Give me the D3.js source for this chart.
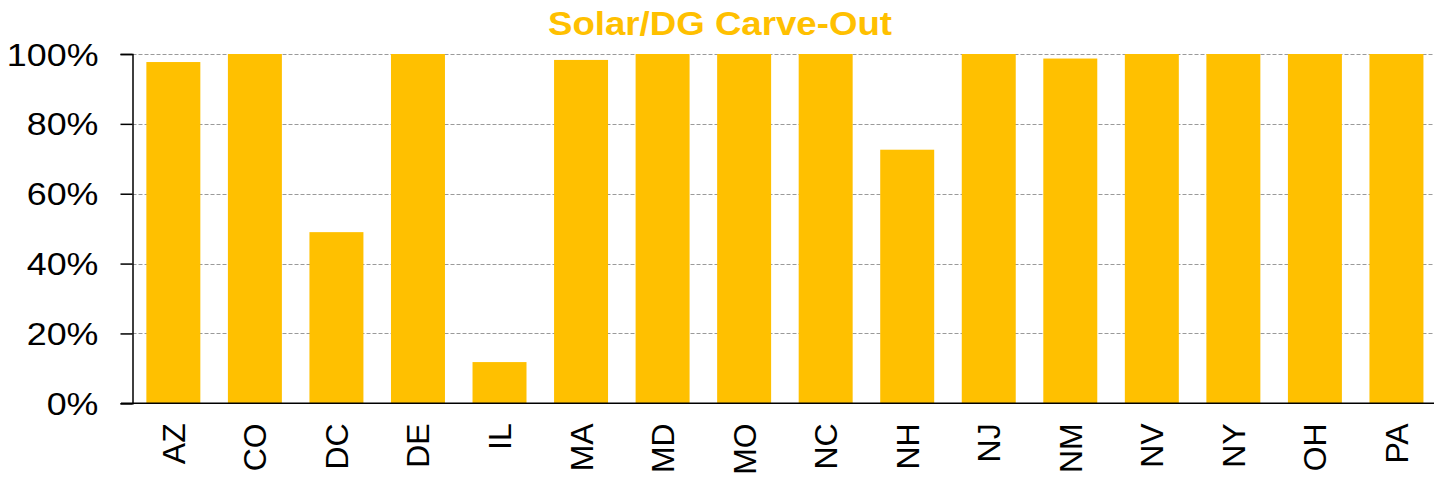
<!DOCTYPE html>
<html>
<head>
<meta charset="utf-8">
<script src="https://cdn.jsdelivr.net/npm/d3@7"></script>
<style>
  body { margin: 0; background: #fff; }
  text { font-family: "Liberation Sans", Arial, sans-serif; }
</style>
</head>
<body>
<div id="chart"></div>
<script>
// Chart data
const states = ["AZ", "CO", "DC", "DE", "IL", "MA", "MD", "MO", "NC", "NH", "NJ", "NM", "NV", "NY", "OH", "PA"];
const carveOut = [0.977, 1.0, 0.49, 1.0, 0.118, 0.983, 1.0, 1.0, 1.0, 0.726, 1.0, 0.987, 1.0, 1.0, 1.0, 1.0];
const yTicks = [0, 0.2, 0.4, 0.6, 0.8, 1.0];
const chartTitle = "Solar/DG Carve-Out";

const width = 1434, height = 479;
const plotLeft = 132.5, plotRight = 1437.3, plotTop = 54, plotBottom = 403.3;

const svg = d3.select("#chart")
    .append("svg")
    .attr("width", width)
    .attr("height", height);

// Scales
const xScale = d3.scaleBand()
    .domain(states)
    .range([plotLeft, plotRight])
    .paddingInner(0.338)
    .paddingOuter(0.17);

const yScale = d3.scaleLinear()
    .domain([0, 1])
    .range([plotBottom, plotTop]);

// Dashed gridlines
svg.append("g")
    .selectAll("line")
    .data(yTicks.filter(d => d > 0))
    .enter()
    .append("line")
    .attr("x1", plotLeft)
    .attr("x2", width)
    .attr("y1", d => Math.round(yScale(d)) + 0.5)
    .attr("y2", d => Math.round(yScale(d)) + 0.5)
    .attr("stroke", "#9a9a9a")
    .attr("stroke-width", 1)
    .attr("stroke-dasharray", "4,2");

// Bars
svg.selectAll(".bar")
    .data(states)
    .enter()
    .append("rect")
    .attr("class", "bar")
    .attr("x", d => xScale(d))
    .attr("y", (d, i) => yScale(carveOut[i]))
    .attr("width", xScale.bandwidth())
    .attr("height", (d, i) => plotBottom - yScale(carveOut[i]))
    .attr("fill", "#FFC000");

// Y axis
const yAxis = svg.append("g")
    .attr("transform", "translate(" + plotLeft + ",0)")
    .call(d3.axisLeft(yScale).tickValues(yTicks).tickSize(12).tickFormat(d3.format(".0%")));

yAxis.select(".domain").attr("stroke", "#000").attr("stroke-width", 1.5);
yAxis.selectAll(".tick line").attr("stroke", "#000").attr("stroke-width", 1.5);
yAxis.selectAll(".tick text")
    .attr("x", null)
    .attr("dy", null)
    .attr("transform", "translate(-34,11) scale(1.12,1)")
    .style("font-size", "32px")
    .attr("fill", "#000");

// X axis
const xAxis = svg.append("g")
    .attr("transform", "translate(0," + plotBottom + ")")
    .call(d3.axisBottom(xScale).tickSize(0).tickPadding(0));

xAxis.select(".domain")
    .attr("d", "M" + (plotLeft - 11.5) + ",0H" + width)
    .attr("stroke", "#000")
    .attr("stroke-width", 1.5);

xAxis.selectAll(".tick text")
    .attr("y", null)
    .attr("dy", null)
    .attr("transform", "translate(11.5,20) rotate(-90)")
    .style("text-anchor", "end")
    .style("font-size", "32px")
    .attr("fill", "#000");

// Title
svg.append("text")
    .attr("transform", "translate(720,35) scale(1.11,1)")
    .attr("text-anchor", "middle")
    .style("font-size", "33px")
    .style("font-weight", "bold")
    .attr("fill", "#FFC000")
    .text(chartTitle);
</script>
</body>
</html>
